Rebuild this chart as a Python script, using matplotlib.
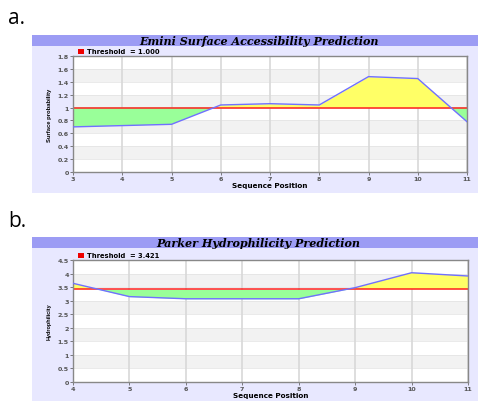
import numpy as np
import matplotlib
matplotlib.use("Agg")
import matplotlib.pyplot as plt
from matplotlib.patches import Rectangle

# data
emini_pos = [3, 4, 5, 6, 7, 8, 9, 10, 11]
emini_val = [0.70, 0.72, 0.74, 1.04, 1.06, 1.04, 1.48, 1.45, 0.78]
emini_thr = 1.0
emini_yticks = [0, 0.2, 0.4, 0.6, 0.8, 1, 1.2, 1.4, 1.6, 1.8]
emini_ylabels = ["0", "0.2", "0.4", "0.6", "0.8", "1", "1.2", "1.4", "1.6", "1.8"]

parker_pos = [4, 5, 6, 7, 8, 9, 10, 11]
parker_val = [3.64, 3.15, 3.07, 3.07, 3.07, 3.48, 4.03, 3.91]
parker_thr = 3.421
parker_yticks = [0, 0.5, 1, 1.5, 2, 2.5, 3, 3.5, 4, 4.5]
parker_ylabels = ["0", "0.5", "1", "1.5", "2", "2.5", "3", "3.5", "4", "4.5"]

W, H = 480, 402
fig = plt.figure(figsize=(W / 100, H / 100), dpi=100)
fig.patch.set_facecolor("white")

SANS = "DejaVu Sans"
SERIF = "DejaVu Serif"


def px_rect(x0, y0, x1, y1):
    # pixel box (top-left origin) -> figure fraction [l, b, w, h]
    return [x0 / W, 1 - y1 / H, (x1 - x0) / W, (y1 - y0) / H]


def panel(box, bar_h, plot_box, title, xs, ys, thr, yticks, ylabels, ylabel, ylabel_fs, thr_text):
    # background box + title bar
    bg = fig.add_axes(px_rect(*box), zorder=-1)
    bg.set_axis_off()
    bg.set_xlim(0, 1)
    bg.set_ylim(0, 1)
    bfrac = bar_h / (box[3] - box[1])
    bg.add_patch(Rectangle((0, 0), 1, 1, facecolor="#e8e8ff", edgecolor="none"))
    bg.add_patch(Rectangle((0, 1 - bfrac), 1, bfrac, facecolor="#9c9cf4", edgecolor="none"))
    bg.text(0.508, 1 - bfrac / 2, title, ha="center", va="center",
            family=SERIF, weight="bold", style="italic", fontsize=8.0)

    # legend above the plot
    lx = plot_box[0] + 5
    ly = plot_box[1] - 5
    bw = box[2] - box[0]
    bh = box[3] - box[1]
    bg.add_patch(Rectangle(((lx - box[0]) / bw, 1 - (ly + 2.5 - box[1]) / bh),
                           6 / bw, 5 / bh, facecolor="#ee0000", edgecolor="none"))
    bg.text((lx + 9 - box[0]) / bw, 1 - (ly - box[1]) / bh, thr_text, ha="left",
            va="center", family=SANS, fontsize=4.9, weight="bold")

    ax = fig.add_axes(px_rect(*plot_box), zorder=1)
    ax.set_facecolor("white")
    xs = np.array(xs)
    ys = np.array(ys)
    ymax = yticks[-1]
    for i in range(len(yticks) - 1):
        if (len(yticks) - 2 - i) % 2 == 1:
            ax.axhspan(yticks[i], yticks[i + 1], color="#f2f2f2", lw=0, zorder=0)
    for t in yticks:
        ax.axhline(t, color="#e2e2e2", lw=0.5, zorder=0.5)
    for xv in xs:
        ax.axvline(xv, color="#d8d8d8", lw=1.2, zorder=0.6)

    ax.fill_between(xs, ys, thr, where=ys >= thr, interpolate=True,
                    color="#ffff66", lw=0, zorder=1)
    ax.fill_between(xs, ys, thr, where=ys <= thr, interpolate=True,
                    color="#99ff99", lw=0, zorder=1)
    ax.axhline(thr, color="#ff2020", lw=1.1, zorder=2)
    ax.plot(xs, ys, color="#7070ff", lw=1.0, zorder=3)

    ax.set_xlim(xs[0], xs[-1])
    ax.set_ylim(0, ymax)
    ax.set_xticks(xs)
    ax.set_xticklabels([str(v) for v in xs], family=SANS, fontsize=4.6, weight="bold",
                       color="#555555")
    ax.set_yticks(yticks)
    ax.set_yticklabels(ylabels, family=SANS, fontsize=4.6, weight="bold", color="#555555")
    ax.tick_params(length=2.2, width=0.6, color="#666666", pad=0.8)
    for s in ax.spines.values():
        s.set_color("#888888")
        s.set_linewidth(1.0)
    ax.set_xlabel("Sequence Position", family=SANS, fontsize=5.2, weight="bold",
                  labelpad=0)
    ax.xaxis.set_label_coords(0.5, -10.5 / (plot_box[3] - plot_box[1]))
    ax.set_ylabel(ylabel, family="Liberation Sans", fontsize=ylabel_fs, weight="bold",
                  labelpad=4)
    return ax


panel((32, 36, 478, 194), 11, (73, 57, 467, 173),
      "Emini Surface Accessibility Prediction",
      emini_pos, emini_val, emini_thr, emini_yticks, emini_ylabels,
      "Surface probability", 4.2, "Threshold  = 1.000")

panel((32, 238, 478, 402), 11, (73, 261, 468, 383),
      "Parker Hydrophilicity Prediction",
      parker_pos, parker_val, parker_thr, parker_yticks, parker_ylabels,
      "Hydrophilicity", 4.0, "Threshold  = 3.421")

fig.text(8 / W, 1 - 24 / H, "a.", family="Open Sans", fontsize=15, ha="left",
         va="baseline")
fig.text(8 / W, 1 - 227 / H, "b.", family="Open Sans", fontsize=15, ha="left",
         va="baseline")

fig.savefig("out.png", dpi=100)
